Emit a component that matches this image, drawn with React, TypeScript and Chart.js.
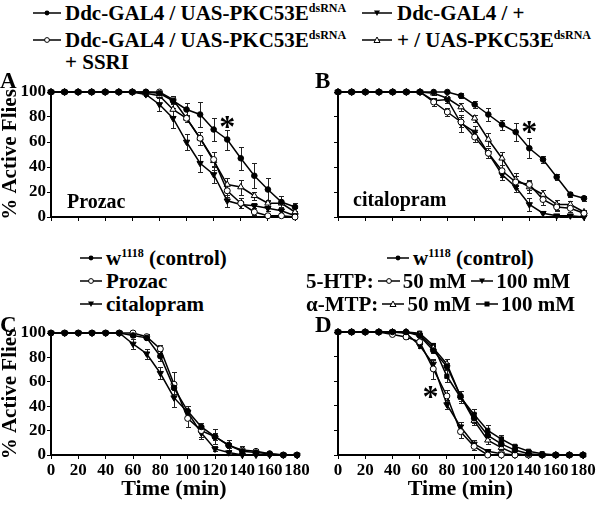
import React, { useEffect, useRef } from "react";
import { Chart, registerables } from "chart.js";

Chart.register(...registerables);

const TIME = [0, 10, 20, 30, 40, 50, 60, 70, 80, 90, 100, 110, 120, 130, 140, 150, 160, 170, 180];
const X_STEP = 20;
const Y_STEP = 20;

// Panel A (Prozac)
const A_DSRNA = [100, 100, 100, 100, 100, 100, 100, 100, 99, 93, 86, 82, 70, 62, 47, 33, 22, 12, 8];
const A_DSRNA_ERR = [0, 0, 0, 0, 0, 0, 0, 0, 1, 3, 5, 10, 9, 8, 9, 10, 9, 5, 3];
const A_SSRI = [100, 100, 100, 100, 100, 100, 100, 100, 100, 94, 79, 63, 46, 21, 11, 4, 1, 1, 0];
const A_SSRI_ERR = [0, 0, 0, 0, 0, 0, 0, 0, 1, 3, 3, 5, 6, 5, 4, 2, 1, 1, 0];
const A_DDC = [100, 100, 100, 100, 100, 100, 100, 98, 90, 79, 60, 43, 34, 13, 10, 9, 7, 5, 1];
const A_DDC_ERR = [0, 0, 0, 0, 0, 0, 0, 1, 5, 8, 6, 7, 7, 5, 3, 2, 2, 2, 1];
const A_UAS = [100, 100, 100, 100, 100, 100, 100, 99, 97, 86, 79, 63, 45, 26, 24, 17, 11, 11, 4];
const A_UAS_ERR = [0, 0, 0, 0, 0, 0, 0, 1, 2, 5, 3, 5, 7, 5, 6, 3, 3, 3, 3];
const A_STAR = [130, 76];

// Panel B (citalopram)
const B_DSRNA = [100, 100, 100, 100, 100, 100, 100, 100, 100, 97, 90, 82, 74, 68, 55, 46, 32, 18, 15];
const B_DSRNA_ERR = [0, 0, 0, 0, 0, 0, 0, 0, 1, 2, 3, 5, 4, 7, 8, 3, 2, 2, 2];
const B_SSRI = [100, 100, 100, 100, 100, 100, 100, 92, 84, 76, 64, 51, 37, 28, 26, 14, 8, 7, 3];
const B_SSRI_ERR = [0, 0, 0, 0, 0, 0, 0, 3, 3, 4, 4, 4, 5, 5, 4, 4, 3, 3, 2];
const B_DDC = [100, 100, 100, 100, 100, 100, 100, 93, 94, 75, 68, 51, 34, 24, 10, 3, 1, 1, 0];
const B_DDC_ERR = [0, 0, 0, 0, 0, 0, 0, 2, 3, 7, 5, 4, 4, 4, 5, 2, 1, 1, 0];
const B_UAS = [100, 100, 100, 100, 100, 100, 100, 99, 95, 88, 79, 62, 47, 30, 24, 18, 10, 10, 4];
const B_UAS_ERR = [0, 0, 0, 0, 0, 0, 0, 1, 2, 3, 3, 5, 5, 5, 5, 4, 4, 3, 2];
const B_STAR = [140, 72];

// Panel C
const C_CTRL = [100, 100, 100, 100, 100, 100, 98, 96, 81, 55, 36, 23, 15, 8, 3, 2, 1, 0, 0];
const C_CTRL_ERR = [0, 0, 0, 0, 0, 0, 1, 2, 4, 5, 4, 3, 3, 2, 1, 1, 1, 0, 0];
const C_PROZAC = [100, 100, 100, 100, 100, 100, 100, 97, 87, 58, 30, 20, 15, 8, 4, 3, 1, 0, 0];
const C_PROZAC_ERR = [0, 0, 0, 0, 0, 0, 0, 2, 3, 10, 7, 5, 6, 4, 3, 2, 1, 0, 0];
const C_CITAL = [100, 100, 100, 100, 100, 100, 91, 83, 67, 47, 35, 18, 5, 2, 0, 0, 0, 0, 0];
const C_CITAL_ERR = [0, 0, 0, 0, 0, 0, 4, 4, 5, 8, 5, 5, 2, 1, 0, 0, 0, 0, 0];

// Panel D
const D_CTRL = [100, 100, 100, 100, 100, 100, 97, 85, 72, 48, 30, 16, 9, 4, 1, 0, 0, 0, 0];
const D_CTRL_ERR = [0, 0, 0, 0, 0, 0, 1, 2, 3, 4, 4, 3, 2, 1, 0, 0, 0, 0, 0];
const D_HTP50 = [100, 100, 100, 100, 98, 96, 92, 70, 48, 19, 7, 0, 0, 0, 0, 0, 0, 0, 0];
const D_HTP50_ERR = [0, 0, 0, 0, 1, 2, 2, 8, 5, 5, 3, 1, 0, 0, 0, 0, 0, 0, 0];
const D_HTP100 = [100, 100, 100, 100, 100, 99, 89, 74, 41, 23, 9, 3, 1, 0, 0, 0, 0, 0, 0];
const D_HTP100_ERR = [0, 0, 0, 0, 0, 1, 2, 3, 4, 4, 3, 1, 0, 0, 0, 0, 0, 0, 0];
const D_MTP50 = [100, 100, 100, 100, 100, 100, 98, 87, 74, 48, 28, 12, 6, 1, 0, 0, 0, 0, 0];
const D_MTP50_ERR = [0, 0, 0, 0, 0, 0, 1, 2, 4, 4, 4, 3, 2, 1, 0, 0, 0, 0, 0];
const D_MTP100 = [100, 100, 100, 100, 100, 100, 99, 89, 64, 47, 33, 20, 13, 7, 3, 1, 0, 0, 0];
const D_MTP100_ERR = [0, 0, 0, 0, 0, 0, 0, 2, 5, 5, 4, 4, 3, 1, 1, 0, 0, 0, 0];
const D_STAR = [68, 51];

const FONT = "'Liberation Serif', 'Times New Roman', serif";

type Kind = "dot" | "ring" | "tdown" | "tup" | "sq";

const STYLE: Record<Kind, { pointStyle: string; rotation: number; fill: string; radius: number }> = {
  dot: { pointStyle: "circle", rotation: 0, fill: "#000", radius: 2.8 },
  ring: { pointStyle: "circle", rotation: 0, fill: "#fff", radius: 3 },
  tdown: { pointStyle: "triangle", rotation: 180, fill: "#000", radius: 3.6 },
  tup: { pointStyle: "triangle", rotation: 0, fill: "#fff", radius: 3.6 },
  sq: { pointStyle: "rect", rotation: 0, fill: "#000", radius: 3 },
};

type Series = { label: string; values: number[]; errors: number[]; kind: Kind };

type Panel = {
  left: number; top: number; width: number; height: number;
  padTop: number; padRight: number; yW: number; xH: number;
  yLabels: boolean; xLabels: boolean;
  series: Series[];
  star: number[];
};

const errorBarPlugin = {
  id: "errorBars",
  beforeDatasetsDraw(chart: any) {
    const ctx = chart.ctx;
    const ys = chart.scales.y;
    ctx.save();
    ctx.strokeStyle = "#222";
    ctx.lineWidth = 1;
    chart.data.datasets.forEach((ds: any, di: number) => {
      const errs: number[] = ds.errors;
      if (!errs) return;
      const meta = chart.getDatasetMeta(di);
      meta.data.forEach((pt: any, i: number) => {
        const e = errs[i];
        if (!e) return;
        const v = ds.data[i].y;
        const t = Math.round(ys.getPixelForValue(v + e)) + 0.5;
        const b = Math.round(ys.getPixelForValue(v - e)) + 0.5;
        const x = Math.round(pt.x) + 0.5;
        ctx.beginPath();
        ctx.moveTo(x, t); ctx.lineTo(x, b);
        ctx.moveTo(x - 2.5, t); ctx.lineTo(x + 2.5, t);
        ctx.moveTo(x - 2.5, b); ctx.lineTo(x + 2.5, b);
        ctx.stroke();
      });
    });
    ctx.restore();
  },
};

const starPlugin = {
  id: "stars",
  afterDatasetsDraw(chart: any, _args: any, opts: any) {
    const p = opts && opts.point;
    if (!p || !p.length) return;
    const ctx = chart.ctx;
    const x = chart.scales.x.getPixelForValue(p[0]);
    const y = chart.scales.y.getPixelForValue(p[1]);
    ctx.save();
    ctx.fillStyle = "#000";
    ctx.font = `bold 32px ${FONT}`;
    ctx.textAlign = "center";
    ctx.textBaseline = "alphabetic";
    ctx.fillText("*", x, y + 15);
    ctx.restore();
  },
};

function build(canvas: HTMLCanvasElement, p: Panel) {
  const tickFont = { family: FONT, size: 17, weight: "bold" as const };
  const titleFont = { family: FONT, size: 21, weight: "bold" as const, lineHeight: 1 };
  return new Chart(canvas, {
    type: "line",
    data: {
      datasets: p.series.map((s) => ({
        label: s.label,
        data: TIME.map((t, i) => ({ x: t, y: s.values[i] })),
        errors: s.errors,
        borderColor: "#000",
        borderWidth: 1.5,
        pointStyle: STYLE[s.kind].pointStyle,
        rotation: STYLE[s.kind].rotation,
        pointRadius: STYLE[s.kind].radius,
        pointBackgroundColor: STYLE[s.kind].fill,
        pointBorderColor: "#000",
        pointBorderWidth: 1,
        tension: 0,
        clip: false,
      })) as any,
    },
    options: {
      animation: false,
      responsive: false,
      events: [],
      layout: { padding: { top: p.padTop, right: p.padRight, left: 0, bottom: 0 } },
      plugins: {
        legend: { display: false },
        tooltip: { enabled: false },
        stars: { point: p.star },
      } as any,
      scales: {
        x: {
          type: "linear",
          min: 0,
          max: 180,
          ticks: { stepSize: X_STEP, display: p.xLabels, font: tickFont, color: "#000", padding: 1, maxRotation: 0, minRotation: 0, autoSkip: false },
          grid: { drawOnChartArea: false, drawTicks: true, tickLength: 4, color: "#000", lineWidth: 1 },
          border: { display: true, color: "#000", width: 2 },
          title: { display: p.xLabels, text: "Time (min)", font: { family: FONT, size: 22, weight: "bold" }, color: "#000", padding: { top: 0, bottom: 4 } },
          afterFit: (s: any) => { s.height = p.xH; s.paddingLeft = 0; s.paddingRight = 0; },
        },
        y: {
          type: "linear",
          min: 0,
          max: 100,
          ticks: { stepSize: Y_STEP, display: p.yLabels, font: tickFont, color: "#000", padding: 1, autoSkip: false },
          grid: { drawOnChartArea: false, drawTicks: true, tickLength: 4, color: "#000", lineWidth: 1 },
          border: { display: true, color: "#000", width: 2 },
          title: { display: p.yLabels, text: "% Active Flies", font: titleFont, color: "#000", padding: { top: 0, bottom: 0 } },
          afterFit: (s: any) => { s.width = p.yW; s.paddingTop = 0; s.paddingBottom = 0; },
        },
      },
    } as any,
    plugins: [errorBarPlugin, starPlugin],
  });
}

const PANELS: Panel[] = [
  {
    left: 0, top: 80, width: 300, height: 145, padTop: 12, padRight: 3, yW: 51, xH: 8,
    yLabels: true, xLabels: false, star: A_STAR,
    series: [
      { label: "Ddc-GAL4 / UAS-PKC53E dsRNA", values: A_DSRNA, errors: A_DSRNA_ERR, kind: "dot" },
      { label: "Ddc-GAL4 / UAS-PKC53E dsRNA + SSRI", values: A_SSRI, errors: A_SSRI_ERR, kind: "ring" },
      { label: "Ddc-GAL4 / +", values: A_DDC, errors: A_DDC_ERR, kind: "tdown" },
      { label: "+ / UAS-PKC53E dsRNA", values: A_UAS, errors: A_UAS_ERR, kind: "tup" },
    ],
  },
  {
    left: 300, top: 80, width: 300, height: 145, padTop: 12, padRight: 16, yW: 38, xH: 8,
    yLabels: false, xLabels: false, star: B_STAR,
    series: [
      { label: "Ddc-GAL4 / UAS-PKC53E dsRNA", values: B_DSRNA, errors: B_DSRNA_ERR, kind: "dot" },
      { label: "Ddc-GAL4 / UAS-PKC53E dsRNA + SSRI", values: B_SSRI, errors: B_SSRI_ERR, kind: "ring" },
      { label: "Ddc-GAL4 / +", values: B_DDC, errors: B_DDC_ERR, kind: "tdown" },
      { label: "+ / UAS-PKC53E dsRNA", values: B_UAS, errors: B_UAS_ERR, kind: "tup" },
    ],
  },
  {
    left: 0, top: 320, width: 320, height: 187, padTop: 13, padRight: 23, yW: 51, xH: 52,
    yLabels: true, xLabels: true, star: [],
    series: [
      { label: "w1118 (control)", values: C_CTRL, errors: C_CTRL_ERR, kind: "dot" },
      { label: "Prozac", values: C_PROZAC, errors: C_PROZAC_ERR, kind: "ring" },
      { label: "citalopram", values: C_CITAL, errors: C_CITAL_ERR, kind: "tdown" },
    ],
  },
  {
    left: 300, top: 320, width: 300, height: 187, padTop: 12, padRight: 17, yW: 38, xH: 52,
    yLabels: false, xLabels: true, star: D_STAR,
    series: [
      { label: "w1118 (control)", values: D_CTRL, errors: D_CTRL_ERR, kind: "dot" },
      { label: "5-HTP 50 mM", values: D_HTP50, errors: D_HTP50_ERR, kind: "ring" },
      { label: "5-HTP 100 mM", values: D_HTP100, errors: D_HTP100_ERR, kind: "tdown" },
      { label: "α-MTP 50 mM", values: D_MTP50, errors: D_MTP50_ERR, kind: "tup" },
      { label: "α-MTP 100 mM", values: D_MTP100, errors: D_MTP100_ERR, kind: "sq" },
    ],
  },
];

function Sym({ kind, w = 28 }: { kind: Kind; w?: number }) {
  const h = 10, c = w / 2, m = 5;
  let mk: any = null;
  if (kind === "dot") mk = <circle cx={c} cy={m} r={2.4} fill="#000" />;
  if (kind === "ring") mk = <circle cx={c} cy={m} r={2.4} fill="#fff" stroke="#000" strokeWidth={1} />;
  if (kind === "tdown") mk = <polygon points={`${c - 3},${m - 2.5} ${c + 3},${m - 2.5} ${c},${m + 3}`} fill="#000" />;
  if (kind === "tup") mk = <polygon points={`${c - 3},${m + 2.5} ${c + 3},${m + 2.5} ${c},${m - 3}`} fill="#fff" stroke="#000" strokeWidth={1} />;
  if (kind === "sq") mk = <rect x={c - 2.5} y={m - 2.5} width={5} height={5} fill="#000" />;
  return (
    <svg width={w} height={h} style={{ display: "block", flex: "none" }}>
      <line x1={0} y1={m} x2={w} y2={m} stroke="#000" strokeWidth={1.5} />
      {mk}
    </svg>
  );
}

const sup = (t: string, size: number) => (
  <span style={{ fontSize: size, position: "relative", top: -8 }}>{t}</span>
);

function Row({ left, cy, size, children }: { left: number; cy: number; size: number; children: any }) {
  return (
    <div style={{ position: "absolute", left, top: cy - 12, height: 24, display: "flex", alignItems: "center", fontSize: size, whiteSpace: "nowrap", lineHeight: 1 }}>
      {children}
    </div>
  );
}

function Abs({ left, top, size, children }: { left: number; top: number; size: number; children: any }) {
  return <div style={{ position: "absolute", left, top, fontSize: size, lineHeight: 1, whiteSpace: "nowrap" }}>{children}</div>;
}

const LG = 21;

export default function App() {
  const refs = [useRef<HTMLCanvasElement>(null), useRef<HTMLCanvasElement>(null), useRef<HTMLCanvasElement>(null), useRef<HTMLCanvasElement>(null)];
  useEffect(() => {
    const charts = PANELS.map((p, i) => build(refs[i].current as HTMLCanvasElement, p));
    return () => charts.forEach((c) => c.destroy());
  }, []);

  return (
    <div style={{ position: "absolute", left: 0, top: 0, width: 600, height: 507, background: "#fff", overflow: "hidden", fontFamily: FONT, fontWeight: "bold", color: "#000" }}>
      {PANELS.map((p, i) => (
        <canvas key={i} ref={refs[i]} width={p.width} height={p.height} style={{ position: "absolute", left: p.left, top: p.top, width: p.width, height: p.height }} />
      ))}

      {/* top legend */}
      <Row left={33} cy={13} size={LG}><Sym kind="dot" w={28} /><span style={{ marginLeft: 4 }}>Ddc-GAL4 / UAS-PKC53E{sup("dsRNA", 12)}</span></Row>
      <Row left={362} cy={13} size={LG}><Sym kind="tdown" w={30} /><span style={{ marginLeft: 5 }}>Ddc-GAL4 / +</span></Row>
      <Row left={33} cy={40} size={LG}><Sym kind="ring" w={28} /><span style={{ marginLeft: 4 }}>Ddc-GAL4 / UAS-PKC53E{sup("dsRNA", 12)}</span></Row>
      <Row left={362} cy={40} size={LG}><Sym kind="tup" w={30} /><span style={{ marginLeft: 5 }}>+ / UAS-PKC53E{sup("dsRNA", 12)}</span></Row>
      <Row left={65} cy={62} size={LG}><span>+ SSRI</span></Row>

      {/* middle legends */}
      <Row left={80} cy={258} size={LG}><Sym kind="dot" w={22} /><span style={{ marginLeft: 4 }}>w{sup("1118", 12)} (control)</span></Row>
      <Row left={80} cy={281} size={LG}><Sym kind="ring" w={22} /><span style={{ marginLeft: 4 }}>Prozac</span></Row>
      <Row left={80} cy={304} size={LG}><Sym kind="tdown" w={22} /><span style={{ marginLeft: 4 }}>citalopram</span></Row>

      <Row left={387} cy={258} size={LG}><Sym kind="dot" w={22} /><span style={{ marginLeft: 4 }}>w{sup("1118", 12)} (control)</span></Row>
      <Row left={306} cy={281} size={LG}>
        <span>5-HTP:</span><span style={{ width: 4 }} /><Sym kind="ring" w={22} /><span style={{ marginLeft: 3 }}>50 mM</span>
        <span style={{ width: 5 }} /><Sym kind="tdown" w={22} /><span style={{ marginLeft: 3 }}>100 mM</span>
      </Row>
      <Row left={306} cy={304} size={LG}>
        <span>α-MTP:</span><span style={{ width: 4 }} /><Sym kind="tup" w={22} /><span style={{ marginLeft: 3 }}>50 mM</span>
        <span style={{ width: 5 }} /><Sym kind="sq" w={22} /><span style={{ marginLeft: 3 }}>100 mM</span>
      </Row>

      {/* panel letters */}
      <Abs left={0} top={69} size={23}>A</Abs>
      <Abs left={315} top={69} size={23}>B</Abs>
      <Abs left={0} top={313} size={23}>C</Abs>
      <Abs left={315} top={313} size={23}>D</Abs>

      {/* panel annotations */}
      <Abs left={67} top={191} size={20}>Prozac</Abs>
      <Abs left={353} top={189} size={20}>citalopram</Abs>
    </div>
  );
}
